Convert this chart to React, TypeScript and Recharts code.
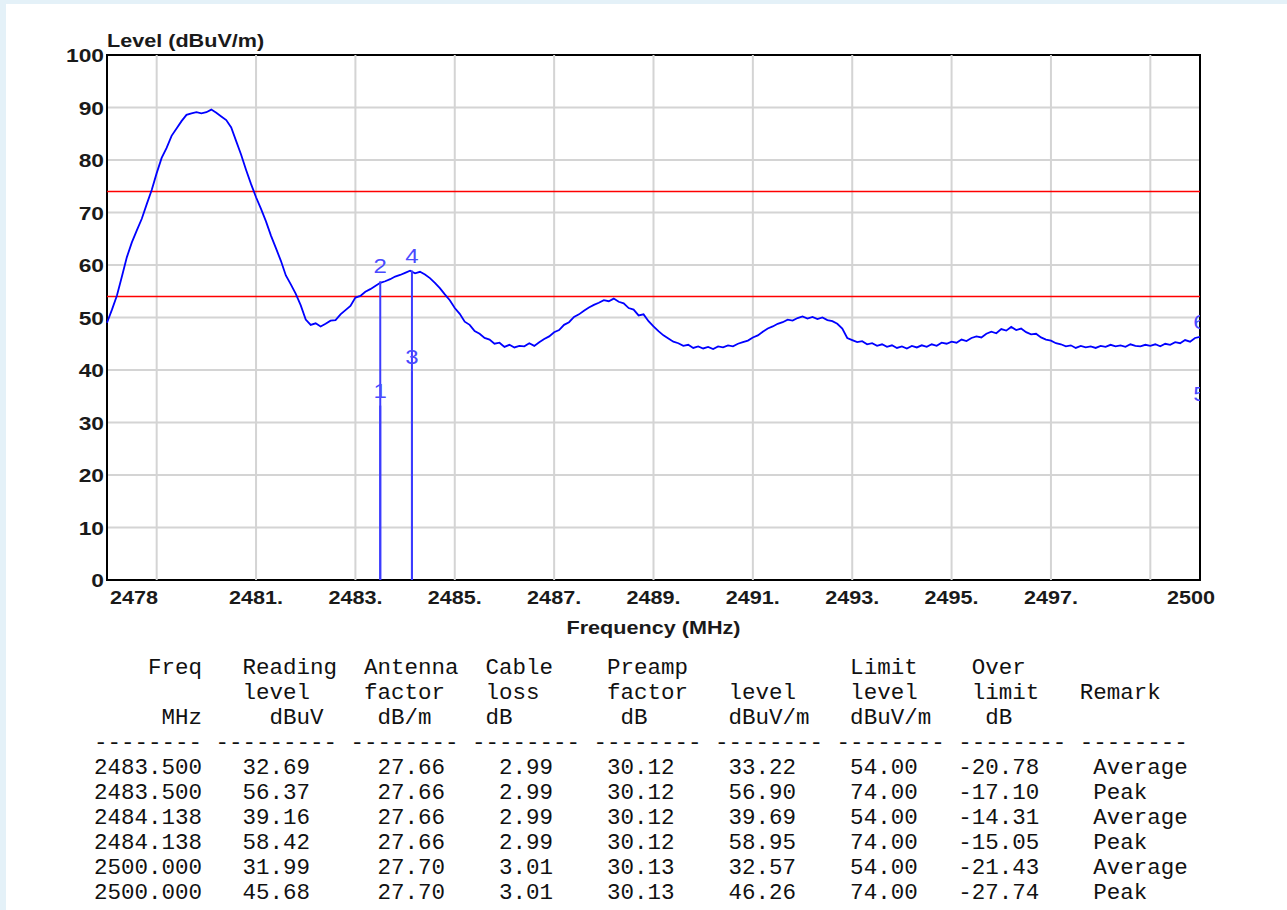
import {
  CartesianGrid,
  Line,
  LineChart,
  ReferenceArea,
  ReferenceDot,
  ReferenceLine,
  XAxis,
  YAxis,
} from "recharts";

// sweep: 2478 - 2500 MHz, one reading every 0.1 MHz
const START_FREQ = 2478;
const STEP = 0.1;

// level readings (dBuV/m), one row per MHz
const levels = [
  49.0, 51.5, 54.2, 57.8, 61.5, 64.3, 66.6, 68.8, 71.6, 74.3, // 2478
  77.5, 80.4, 82.3, 84.6, 86.0, 87.4, 88.6, 88.9, 89.1, 88.9, // 2479
  89.1, 89.6, 89.0, 88.3, 87.6, 86.2, 83.6, 81.0, 78.1, 75.4, // 2480
  72.9, 70.7, 68.3, 65.6, 63.2, 60.8, 58.0, 56.3, 54.5, 52.3, // 2481
  49.6, 48.6, 48.9, 48.3, 48.8, 49.4, 49.5, 50.6, 51.4, 52.2, // 2482
  53.8, 54.1, 54.9, 55.4, 56.0, 56.6, 56.9, 57.3, 57.8, 58.1, // 2483
  58.5, 58.9, 58.4, 58.7, 58.2, 57.5, 56.6, 55.6, 54.4, 53.3, // 2484
  51.8, 50.7, 49.2, 48.6, 47.4, 46.9, 46.1, 45.8, 45.0, 45.2, // 2485
  44.4, 44.8, 44.3, 44.6, 44.5, 45.1, 44.6, 45.3, 45.9, 46.4, // 2486
  47.2, 47.6, 48.6, 49.1, 50.1, 50.6, 51.3, 51.9, 52.4, 52.8, // 2487
  53.3, 53.1, 53.6, 53.0, 52.7, 51.8, 51.5, 50.4, 50.6, 49.3, // 2488
  48.3, 47.4, 46.6, 46.0, 45.4, 45.1, 44.6, 44.8, 44.2, 44.5, // 2489
  44.1, 44.4, 44.0, 44.5, 44.3, 44.7, 44.5, 45.0, 45.3, 45.6, // 2490
  46.2, 46.6, 47.3, 47.9, 48.3, 48.8, 49.1, 49.6, 49.4, 49.9, // 2491
  50.2, 49.8, 50.1, 49.7, 50.0, 49.5, 49.3, 48.8, 47.9, 46.1, // 2492
  45.7, 45.3, 45.5, 44.9, 45.1, 44.6, 44.9, 44.4, 44.7, 44.2, // 2493
  44.5, 44.1, 44.6, 44.3, 44.7, 44.4, 44.9, 44.6, 45.2, 45.0, // 2494
  45.4, 45.2, 45.8, 45.5, 46.1, 46.4, 46.2, 46.9, 47.3, 47.0, // 2495
  47.8, 47.5, 48.2, 47.6, 47.9, 47.2, 46.8, 46.9, 46.2, 45.8, // 2496
  45.6, 45.1, 44.9, 44.5, 44.7, 44.2, 44.6, 44.3, 44.5, 44.2, // 2497
  44.6, 44.4, 44.8, 44.5, 44.7, 44.4, 44.9, 44.6, 44.5, 44.8, // 2498
  44.6, 44.9, 44.5, 45.0, 44.8, 45.3, 45.1, 45.7, 45.4, 46.1, // 2499
  46.3, // 2500
];

const xTicks = [2478, 2481, 2483, 2485, 2487, 2489, 2491, 2493, 2495, 2497, 2500];
const xTickLabels = ["2478", "2481.", "2483.", "2485.", "2487.", "2489.", "2491.", "2493.", "2495.", "2497.", "2500"];
const gridFreqs = [2479, 2481, 2483, 2485, 2487, 2489, 2491, 2493, 2495, 2497, 2499];
const yTicks = [0, 10, 20, 30, 40, 50, 60, 70, 80, 90, 100];
const limitLines = [54, 74];

const markerIds = ["1", "2", "3", "4", "5", "6"];
const markerFreqs = [2483.5, 2483.5, 2484.138, 2484.138, 2500, 2500];
const markerLevels = [33.22, 56.9, 39.69, 58.95, 32.57, 46.26];

// result table
const tFreq = [2483.5, 2483.5, 2484.138, 2484.138, 2500, 2500];
const tReading = [32.69, 56.37, 39.16, 58.42, 31.99, 45.68];
const tAntenna = [27.66, 27.66, 27.66, 27.66, 27.7, 27.7];
const tCable = [2.99, 2.99, 2.99, 2.99, 3.01, 3.01];
const tPreamp = [30.12, 30.12, 30.12, 30.12, 30.13, 30.13];
const tLevel = [33.22, 56.9, 39.69, 58.95, 32.57, 46.26];
const tLimit = [54, 74, 54, 74, 54, 74];
const tOver = [-20.78, -17.1, -14.31, -15.05, -21.43, -27.74];
const tRemark = ["Average", "Peak", "Average", "Peak", "Average", "Peak"];

const headRow1: [number, string][] = [[4, "Freq"], [11, "Reading"], [20, "Antenna"], [29, "Cable"], [38, "Preamp"], [56, "Limit"], [65, "Over"]];
const headRow2: [number, string][] = [[11, "level"], [20, "factor"], [29, "loss"], [38, "factor"], [47, "level"], [56, "level"], [65, "limit"], [73, "Remark"]];
const headRow3: [number, string][] = [[5, "MHz"], [13, "dBuV"], [21, "dB/m"], [29, "dB"], [39, "dB"], [47, "dBuV/m"], [56, "dBuV/m"], [66, "dB"]];
const dashCols = [0, 9, 19, 28, 37, 46, 55, 64, 73];
const dashLens = [8, 9, 8, 8, 8, 8, 8, 8, 8];
const dataCols = [0, 11, 21, 30, 38, 47, 56, 64, 74];

const traceData = levels.map((v, i) => ({ f: +(START_FREQ + i * STEP).toFixed(1), level: v }));

const place = (items: [number, string][]) => {
  let s = "";
  for (const [col, txt] of items) {
    s = s.padEnd(col, " ") + txt;
  }
  return s;
};

const tableLines = [
  place(headRow1),
  place(headRow2),
  place(headRow3),
  place(dashCols.map((c, i) => [c, "-".repeat(dashLens[i])] as [number, string])),
  ...tFreq.map((f, i) =>
    place(
      [
        f.toFixed(3),
        tReading[i].toFixed(2),
        tAntenna[i].toFixed(2),
        tCable[i].toFixed(2),
        tPreamp[i].toFixed(2),
        tLevel[i].toFixed(2),
        tLimit[i].toFixed(2),
        tOver[i].toFixed(2),
        tRemark[i],
      ].map((t, j) => [dataCols[j], t] as [number, string])
    )
  ),
];

const FONT = "'Liberation Sans', Arial, sans-serif";
const STRETCH = 1.2;

function XTick({ x, y, payload }: any) {
  const v = payload.value;
  const idx = xTicks.indexOf(v);
  const first = idx === 0;
  const last = idx === xTicks.length - 1;
  const tx = first ? x + 3 : last ? x - 9 : x;
  return (
    <text
      transform={`translate(${tx},${y + 22}) scale(${STRETCH},1)`}
      textAnchor={first ? "start" : "middle"}
      fontFamily={FONT}
      fontWeight="bold"
      fontSize={18}
      fill="#1a1a1a"
    >
      {xTickLabels[idx]}
    </text>
  );
}

function YTick({ x, y, payload }: any) {
  return (
    <text
      transform={`translate(${x},${y + 7}) scale(${STRETCH},1)`}
      textAnchor="end"
      fontFamily={FONT}
      fontWeight="bold"
      fontSize={19}
      fill="#1a1a1a"
    >
      {payload.value}
    </text>
  );
}

export default function App() {
  return (
    <div style={{ position: "absolute", left: 0, top: 0, width: 1287, height: 910, background: "#e4f1f8", overflow: "hidden" }}>
      <div style={{ position: "absolute", left: 6, top: 4, right: 0, bottom: 0, background: "#fff" }} />
      <div style={{ position: "absolute", left: 0, top: 0 }}>
        <LineChart width={1287} height={650} data={traceData} margin={{ top: 55, right: 87, left: 47, bottom: 40 }}>
          <CartesianGrid vertical={false} stroke="#d4d4d4" strokeWidth={2} />
          <XAxis
            dataKey="f"
            type="number"
            domain={[2478, 2500]}
            ticks={xTicks}
            interval={0}
            height={30}
            tickLine={false}
            tickSize={0}
            tickMargin={2}
            axisLine={false}
            tick={<XTick />}
            label={(p: any) => {
              const vb = p.viewBox || { x: 107, y: 580, width: 1093 };
              return (
                <text
                  transform={`translate(${vb.x + vb.width / 2},${vb.y + 54}) scale(${STRETCH},1)`}
                  textAnchor="middle"
                  fontFamily={FONT}
                  fontWeight="bold"
                  fontSize={18}
                  fill="#1a1a1a"
                >
                  Frequency (MHz)
                </text>
              );
            }}
          />
          <YAxis
            type="number"
            domain={[0, 100]}
            ticks={yTicks}
            interval={0}
            width={60}
            tickLine={false}
            tickSize={0}
            tickMargin={3}
            axisLine={false}
            tick={<YTick />}
            label={(p: any) => {
              const vb = p.viewBox || { x: 47, y: 55, width: 60 };
              return (
                <text
                  transform={`translate(${vb.x + vb.width},${vb.y - 8}) scale(${STRETCH},1)`}
                  textAnchor="start"
                  fontFamily={FONT}
                  fontWeight="bold"
                  fontSize={18}
                  fill="#1a1a1a"
                >
                  Level (dBuV/m)
                </text>
              );
            }}
          />
          {gridFreqs.map((f) => (
            <ReferenceLine key={`g${f}`} x={f} stroke="#d4d4d4" strokeWidth={2} />
          ))}
          {limitLines.map((l) => (
            <ReferenceLine key={`l${l}`} y={l} stroke="#ff0000" strokeWidth={1.5} />
          ))}
          <Line
            type="linear"
            dataKey="level"
            stroke="#0000ff"
            strokeWidth={1.8}
            dot={false}
            isAnimationActive={false}
          />
          {markerFreqs.map((f, i) =>
            f < 2500 ? (
              <ReferenceLine
                key={`m${i}`}
                segment={[
                  { x: f, y: 0 },
                  { x: f, y: markerLevels[i] },
                ]}
                stroke="#3c3cff"
                strokeWidth={2}
              />
            ) : null
          )}
          {markerFreqs.map((f, i) => (
            <ReferenceDot
              key={`d${i}`}
              x={f}
              y={markerLevels[i]}
              r={0}
              ifOverflow="hidden"
              shape={(p: any) => (
                <g clipPath={p.clipPath}>
                  <text
                    transform={`translate(${p.cx},${p.cy - 8}) scale(${STRETCH},1)`}
                    textAnchor="middle"
                    fontFamily={FONT}
                    fontSize={20}
                    fill="#4a4aff"
                  >
                    {markerIds[i]}
                  </text>
                </g>
              )}
            />
          ))}
          <ReferenceArea
            x1={2478}
            x2={2500}
            y1={0}
            y2={100}
            fill="none"
            stroke="#000"
            strokeWidth={2}
            ifOverflow="visible"
          />
        </LineChart>
      </div>
      <pre
        style={{
          position: "absolute",
          left: 94,
          top: 656,
          margin: 0,
          fontFamily: "'Liberation Mono', 'DejaVu Sans Mono', monospace",
          fontSize: 22.5,
          lineHeight: "25px",
          color: "#111",
        }}
      >
        {tableLines.join("\n")}
      </pre>
    </div>
  );
}
